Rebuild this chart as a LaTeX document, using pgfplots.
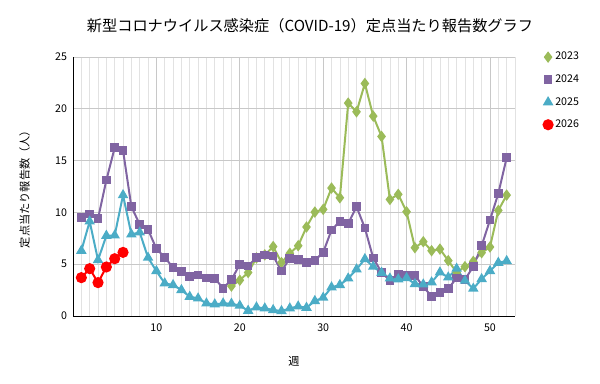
\documentclass[border=0pt]{standalone}
\usepackage{pgfplots}
\pgfplotsset{compat=1.18}
\usepackage{fontspec}
\setmainfont{Noto Sans CJK JP}
\definecolor{c23}{HTML}{9BBB59}
\definecolor{c24}{HTML}{8064A2}
\definecolor{c25}{HTML}{4BACC6}
\definecolor{c26}{HTML}{FF0000}
\definecolor{gmaj}{HTML}{C8C8C8}
\definecolor{gmin}{HTML}{E2E2E2}
\begin{document}
\begin{tikzpicture}
\useasboundingbox (0,0) rectangle (450pt,288pt);
\node[font=\fontsize{11.4pt}{13pt}\selectfont] at (232.5pt,269pt) {新型コロナウイルス感染症（COVID-19）定点当たり報告数グラフ};
\begin{axis}[
  at={(54.75pt,51pt)}, anchor=south west,
  scale only axis, width=331.5pt, height=194.25pt,
  xmin=0, xmax=53, ymin=0, ymax=25,
  xtick={10,20,30,40,50}, ytick={0,5,10,15,20,25},
  minor xtick={1,...,53},
  grid=both,
  major grid style={gmaj, line width=0.6pt},
  minor grid style={gmin, line width=0.5pt},
  axis x line*=bottom, axis y line*=left,
  axis line style={black, line width=0.7pt, -},
  major tick length=0pt, minor tick length=0pt,
  tick label style={font=\fontsize{8pt}{9pt}\selectfont},
  /pgf/number format/assume math mode=true,
  xticklabel style={yshift=-2pt},
  yticklabel style={xshift=-1pt},
  xlabel={週}, ylabel={定点当たり報告数（人）},
  label style={font=\fontsize{8.4pt}{10pt}\selectfont},
  xlabel style={yshift=-12pt},
  ylabel style={yshift=12pt},
  legend style={at={(1.055,1.04)}, anchor=north west, draw=none, fill=none,
    font=\fontsize{8pt}{9pt}\selectfont, row sep=5.6pt,
    legend cell align=left},
  legend image code/.code={\draw[#1, only marks] plot coordinates {(0.15cm,0cm)};},
  every axis plot/.append style={line width=1.5pt},
]
\addplot[c23, mark=diamond*, mark size=3.1pt] coordinates {
(19,2.89) (20,3.45) (21,4.2) (22,5.6) (23,5.9) (24,6.7) (25,5.16) (26,6.05) (27,6.78) (28,8.59) (29,10.03) (30,10.29) (31,12.35) (32,11.41) (33,20.55) (34,19.71) (35,22.44) (36,19.29) (37,17.33) (38,11.25) (39,11.74) (40,10.06) (41,6.59) (42,7.17) (43,6.30) (44,6.46) (45,5.34) (46,4.21) (47,4.76) (48,5.27) (49,6.11) (50,6.66) (51,10.19) (52,11.67)
};
\addlegendentry{2023}
\addplot[c24, mark=square*, mark size=2.5pt] coordinates {
(1,9.52) (2,9.84) (3,9.39) (4,13.12) (5,16.24) (6,15.98) (7,10.55) (8,8.84) (9,8.33) (10,6.50) (11,5.66) (12,4.66) (13,4.31) (14,3.79) (15,3.95) (16,3.67) (17,3.63) (18,2.67) (19,3.50) (20,4.98) (21,4.82) (22,5.67) (23,5.88) (24,5.8) (25,4.34) (26,5.56) (27,5.43) (28,5.18) (29,5.37) (30,6.14) (31,8.30) (32,9.13) (33,8.94) (34,10.55) (35,8.49) (36,5.59) (37,4.21) (38,3.41) (39,4.05) (40,3.92) (41,3.93) (42,2.83) (43,1.90) (44,2.28) (45,2.64) (46,3.67) (47,3.54) (48,4.76) (49,6.78) (50,9.26) (51,11.83) (52,15.27)
};
\addlegendentry{2024}
\addplot[c25, mark=triangle*, mark size=3.1pt] coordinates {
(1,6.30) (2,9.13) (3,5.40) (4,7.75) (5,7.78) (6,11.67) (7,7.88) (8,8.07) (9,5.63) (10,4.34) (11,3.15) (12,2.99) (13,2.51) (14,1.86) (15,1.70) (16,1.22) (17,1.13) (18,1.22) (19,1.19) (20,1.0) (21,0.51) (22,0.84) (23,0.74) (24,0.58) (25,0.48) (26,0.74) (27,0.93) (28,0.80) (29,1.45) (30,1.77) (31,2.77) (32,2.99) (33,3.63) (34,4.50) (35,5.50) (36,4.76) (37,4.18) (38,3.63) (39,3.54) (40,3.67) (41,3.09) (42,3.05) (43,3.25) (44,4.21) (45,3.73) (46,4.57) (47,3.41) (48,2.64) (49,3.57) (50,4.34) (51,5.14) (52,5.31)
};
\addlegendentry{2025}
\addplot[c26, mark=*, mark size=3.4pt] coordinates {
(1,3.70) (2,4.57) (3,3.22) (4,4.73) (5,5.53) (6,6.14)
};
\addlegendentry{2026}
\end{axis}
\end{tikzpicture}
\end{document}
